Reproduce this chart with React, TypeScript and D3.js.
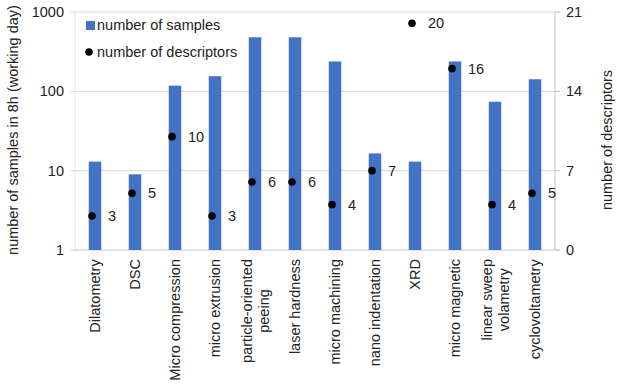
import React, { useEffect, useRef } from "react";
import * as d3 from "d3";

const categories = [
  ["Dilatometry"],
  ["DSC"],
  ["Micro compression"],
  ["micro extrusion"],
  ["particle-oriented", "peeing"],
  ["laser hardness"],
  ["micro machining"],
  ["nano indentation"],
  ["XRD"],
  ["micro magnetic"],
  ["linear sweep", "volametry"],
  ["cyclovoltametry"],
];
const samples = [13, 9, 118, 155, 480, 480, 238, 16.5, 13, 238, 74, 142];
const descriptors = [3, 5, 10, 3, 6, 6, 4, 7, 20, 16, 4, 5];
const leftTicks = [1, 10, 100, 1000];
const rightTicks = [0, 7, 14, 21];

const FONT = "'Liberation Sans', Arial, sans-serif";

function App() {
  const ref = useRef<SVGSVGElement>(null);

  useEffect(() => {
    const svg = d3.select(ref.current);
    svg.selectAll("*").remove();
    const left = 75,
      right = 555,
      top = 12,
      bottom = 250;

    const x = d3
      .scaleBand<number>()
      .domain(d3.range(categories.length))
      .range([left, right]);
    const y = d3.scaleLog().domain([1, 1000]).range([bottom, top]);
    const y2 = d3.scaleLinear().domain([0, 21]).range([bottom, top]);

    // gridlines
    svg
      .append("g")
      .selectAll("line")
      .data(leftTicks.slice(1))
      .enter()
      .append("line")
      .attr("x1", left - 4)
      .attr("x2", right)
      .attr("y1", (d) => y(d))
      .attr("y2", (d) => y(d))
      .attr("stroke", "#d9d9d9")
      .attr("stroke-width", 1);

    // left axis line
    svg
      .append("line")
      .attr("x1", left)
      .attr("x2", left)
      .attr("y1", top)
      .attr("y2", bottom)
      .attr("stroke", "#e3e3e3");

    // bottom axis line
    svg
      .append("line")
      .attr("x1", left - 4)
      .attr("x2", right + 4)
      .attr("y1", bottom)
      .attr("y2", bottom)
      .attr("stroke", "#c8c8c8");

    // right axis
    const ra = svg.append("g");
    ra.append("line")
      .attr("x1", right)
      .attr("x2", right)
      .attr("y1", top)
      .attr("y2", bottom)
      .attr("stroke", "#bfbfbf");
    ra.selectAll("line.t")
      .data(rightTicks)
      .enter()
      .append("line")
      .attr("class", "t")
      .attr("x1", right)
      .attr("x2", right + 5)
      .attr("y1", (d) => y2(d))
      .attr("y2", (d) => y2(d))
      .attr("stroke", "#bfbfbf");
    ra.selectAll("text")
      .data(rightTicks)
      .enter()
      .append("text")
      .attr("x", right + 11)
      .attr("y", (d) => y2(d) + 5)
      .attr("font-family", FONT)
      .attr("font-size", 14.5)
      .attr("fill", "#222")
      .text((d) => d);

    // left tick labels
    svg
      .append("g")
      .selectAll("text")
      .data(leftTicks)
      .enter()
      .append("text")
      .attr("x", left - 11)
      .attr("y", (d) => y(d) + 5)
      .attr("text-anchor", "end")
      .attr("font-family", FONT)
      .attr("font-size", 14.5)
      .attr("fill", "#222")
      .text((d) => d);

    // bars
    const bw = 12.5;
    svg
      .append("g")
      .selectAll("rect")
      .data(samples)
      .enter()
      .append("rect")
      .attr("x", (d, i) => (x(i) as number) + x.bandwidth() / 2 - bw / 2)
      .attr("y", (d) => y(d))
      .attr("width", bw)
      .attr("height", (d) => bottom - y(d))
      .attr("fill", "#4472C4");

    // descriptor dots
    const cx = (i: number) => (x(i) as number) + x.bandwidth() / 2 - 3;
    svg
      .append("g")
      .selectAll("circle")
      .data(descriptors)
      .enter()
      .append("circle")
      .attr("cx", (d, i) => cx(i))
      .attr("cy", (d) => y2(d))
      .attr("r", 3.8)
      .attr("fill", "#000");
    svg
      .append("g")
      .selectAll("text")
      .data(descriptors)
      .enter()
      .append("text")
      .attr("x", (d, i) => cx(i) + 16)
      .attr("y", (d) => y2(d) + 5)
      .attr("font-family", FONT)
      .attr("font-size", 14.5)
      .attr("fill", "#222")
      .text((d) => d);

    // category labels
    const cat = svg
      .append("g")
      .selectAll("text")
      .data(categories)
      .enter()
      .append("text")
      .attr("transform", (d, i) => {
        const c = (x(i) as number) + x.bandwidth() / 2;
        return "translate(" + c + "," + (bottom + 9) + ") rotate(-90)";
      })
      .attr("text-anchor", "middle")
      .attr("font-family", FONT)
      .attr("font-size", 14.5)
      .attr("fill", "#222");
    cat.each(function (d) {
      const t = d3.select(this);
      const n = d.length;
      d.forEach((line, k) => {
        t.append("tspan")
          .attr("x", 0)
          .attr("y", 5 + (k - (n - 1) / 2) * 17)
          .text(line);
      });
    });
    // right-align (end) by computing width
    cat.each(function () {
      const el = this as SVGTextElement;
      const w = el.getBBox().width;
      d3.select(el)
        .selectAll("tspan")
        .attr("x", -w / 2);
    });

    // axis titles
    svg
      .append("text")
      .attr("transform", "translate(18,130) rotate(-90)")
      .attr("text-anchor", "middle")
      .attr("font-family", FONT)
      .attr("font-size", 14.5)
      .attr("fill", "#222")
      .text("number of samples in 8h (working day)");
    svg
      .append("text")
      .attr("transform", "translate(612,140) rotate(-90)")
      .attr("text-anchor", "middle")
      .attr("font-family", FONT)
      .attr("font-size", 14.5)
      .attr("fill", "#222")
      .text("number of descriptors");

    // legend
    const lg = svg.append("g").attr("font-family", FONT).attr("font-size", 14.5).attr("fill", "#222");
    lg.append("rect").attr("x", 86).attr("y", 21).attr("width", 9).attr("height", 9).attr("fill", "#4472C4");
    lg.append("text").attr("x", 97).attr("y", 30).text("number of samples");
    lg.append("circle").attr("cx", 89).attr("cy", 52).attr("r", 3.8).attr("fill", "#000");
    lg.append("text").attr("x", 97).attr("y", 57).text("number of descriptors");
  }, []);

  return (
    <svg
      ref={ref}
      width={617}
      height={384}
      style={{ position: "absolute", left: 0, top: 0, background: "#fff" }}
    />
  );
}

export default App;
